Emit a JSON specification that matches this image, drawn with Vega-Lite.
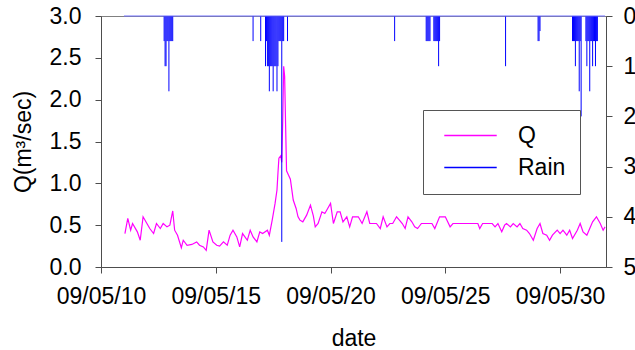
{
  "$schema": "https://vega.github.io/schema/vega-lite/v6.json",
  "width": 505,
  "height": 251,
  "autosize": {"type": "none"},
  "padding": {"left": 101, "top": 16, "right": 29, "bottom": 83},
  "config": {
    "font": "Liberation Sans",
    "view": {"stroke": "#808080", "strokeWidth": 1},
    "axis": {
      "labelFontSize": 23,
      "titleFontSize": 23,
      "labelColor": "#000",
      "titleColor": "#000",
      "titleFontWeight": "normal",
      "domainColor": "#4d4d4d",
      "tickColor": "#4d4d4d",
      "tickSize": 6,
      "grid": false
    }
  },
  "datasets": {
    "q": [
      {"t": "2009-05-11T01:00", "q": 0.40},
      {"t": "2009-05-11T04:00", "q": 0.58},
      {"t": "2009-05-11T07:00", "q": 0.44},
      {"t": "2009-05-11T09:00", "q": 0.52},
      {"t": "2009-05-11T14:00", "q": 0.42},
      {"t": "2009-05-11T17:00", "q": 0.32},
      {"t": "2009-05-11T20:00", "q": 0.60},
      {"t": "2009-05-12T00:00", "q": 0.52},
      {"t": "2009-05-12T03:00", "q": 0.46},
      {"t": "2009-05-12T07:00", "q": 0.40},
      {"t": "2009-05-12T10:00", "q": 0.52},
      {"t": "2009-05-12T14:00", "q": 0.46},
      {"t": "2009-05-12T17:00", "q": 0.52},
      {"t": "2009-05-12T21:00", "q": 0.48},
      {"t": "2009-05-13T00:00", "q": 0.50},
      {"t": "2009-05-13T03:00", "q": 0.67},
      {"t": "2009-05-13T05:00", "q": 0.44},
      {"t": "2009-05-13T08:00", "q": 0.38},
      {"t": "2009-05-13T12:00", "q": 0.23},
      {"t": "2009-05-13T14:00", "q": 0.32},
      {"t": "2009-05-13T18:00", "q": 0.26},
      {"t": "2009-05-13T23:00", "q": 0.27},
      {"t": "2009-05-14T04:00", "q": 0.30},
      {"t": "2009-05-14T07:00", "q": 0.26},
      {"t": "2009-05-14T11:00", "q": 0.24},
      {"t": "2009-05-14T14:00", "q": 0.20},
      {"t": "2009-05-14T17:00", "q": 0.44},
      {"t": "2009-05-14T21:00", "q": 0.30},
      {"t": "2009-05-15T01:00", "q": 0.26},
      {"t": "2009-05-15T04:00", "q": 0.25},
      {"t": "2009-05-15T08:00", "q": 0.30},
      {"t": "2009-05-15T12:00", "q": 0.26},
      {"t": "2009-05-15T15:00", "q": 0.38},
      {"t": "2009-05-15T18:00", "q": 0.44},
      {"t": "2009-05-15T22:00", "q": 0.36},
      {"t": "2009-05-16T01:00", "q": 0.24},
      {"t": "2009-05-16T04:00", "q": 0.40},
      {"t": "2009-05-16T09:00", "q": 0.32},
      {"t": "2009-05-16T12:00", "q": 0.44},
      {"t": "2009-05-16T15:00", "q": 0.36},
      {"t": "2009-05-16T19:00", "q": 0.30},
      {"t": "2009-05-16T22:00", "q": 0.42},
      {"t": "2009-05-17T01:00", "q": 0.40},
      {"t": "2009-05-17T06:00", "q": 0.44},
      {"t": "2009-05-17T08:00", "q": 0.38},
      {"t": "2009-05-17T11:00", "q": 0.56},
      {"t": "2009-05-17T14:00", "q": 0.76},
      {"t": "2009-05-17T16:00", "q": 0.92},
      {"t": "2009-05-17T17:00", "q": 1.12},
      {"t": "2009-05-17T18:00", "q": 1.30},
      {"t": "2009-05-17T20:00", "q": 1.33},
      {"t": "2009-05-17T21:00", "q": 1.25},
      {"t": "2009-05-17T22:00", "q": 1.75},
      {"t": "2009-05-17T23:00", "q": 2.40},
      {"t": "2009-05-18T00:00", "q": 2.28},
      {"t": "2009-05-18T01:00", "q": 1.70},
      {"t": "2009-05-18T02:00", "q": 1.15},
      {"t": "2009-05-18T04:00", "q": 1.10},
      {"t": "2009-05-18T06:00", "q": 1.05},
      {"t": "2009-05-18T09:00", "q": 0.80},
      {"t": "2009-05-18T12:00", "q": 0.70},
      {"t": "2009-05-18T14:00", "q": 0.60},
      {"t": "2009-05-18T16:00", "q": 0.56},
      {"t": "2009-05-18T19:00", "q": 0.54},
      {"t": "2009-05-18T23:00", "q": 0.62},
      {"t": "2009-05-19T03:00", "q": 0.74},
      {"t": "2009-05-19T06:00", "q": 0.61},
      {"t": "2009-05-19T08:00", "q": 0.48},
      {"t": "2009-05-19T11:00", "q": 0.52},
      {"t": "2009-05-19T15:00", "q": 0.66},
      {"t": "2009-05-19T18:00", "q": 0.64},
      {"t": "2009-05-19T21:00", "q": 0.70},
      {"t": "2009-05-20T00:00", "q": 0.76},
      {"t": "2009-05-20T03:00", "q": 0.52},
      {"t": "2009-05-20T07:00", "q": 0.66},
      {"t": "2009-05-20T10:00", "q": 0.66},
      {"t": "2009-05-20T13:00", "q": 0.54},
      {"t": "2009-05-20T17:00", "q": 0.60},
      {"t": "2009-05-20T20:00", "q": 0.48},
      {"t": "2009-05-20T23:00", "q": 0.60},
      {"t": "2009-05-21T05:00", "q": 0.60},
      {"t": "2009-05-21T09:00", "q": 0.52},
      {"t": "2009-05-21T14:00", "q": 0.66},
      {"t": "2009-05-21T17:00", "q": 0.52},
      {"t": "2009-05-22T00:00", "q": 0.52},
      {"t": "2009-05-22T04:00", "q": 0.46},
      {"t": "2009-05-22T07:00", "q": 0.60},
      {"t": "2009-05-22T11:00", "q": 0.48},
      {"t": "2009-05-22T14:00", "q": 0.52},
      {"t": "2009-05-22T17:00", "q": 0.52},
      {"t": "2009-05-22T21:00", "q": 0.60},
      {"t": "2009-05-23T00:00", "q": 0.56},
      {"t": "2009-05-23T03:00", "q": 0.52},
      {"t": "2009-05-23T06:00", "q": 0.46},
      {"t": "2009-05-23T09:00", "q": 0.60},
      {"t": "2009-05-23T13:00", "q": 0.54},
      {"t": "2009-05-23T16:00", "q": 0.48},
      {"t": "2009-05-23T19:00", "q": 0.46},
      {"t": "2009-05-23T23:00", "q": 0.52},
      {"t": "2009-05-24T10:00", "q": 0.52},
      {"t": "2009-05-24T13:00", "q": 0.46},
      {"t": "2009-05-24T18:00", "q": 0.60},
      {"t": "2009-05-25T00:00", "q": 0.60},
      {"t": "2009-05-25T05:00", "q": 0.48},
      {"t": "2009-05-25T08:00", "q": 0.52},
      {"t": "2009-05-26T10:00", "q": 0.52},
      {"t": "2009-05-26T12:00", "q": 0.46},
      {"t": "2009-05-26T15:00", "q": 0.52},
      {"t": "2009-05-27T01:00", "q": 0.52},
      {"t": "2009-05-27T04:00", "q": 0.48},
      {"t": "2009-05-27T07:00", "q": 0.52},
      {"t": "2009-05-27T11:00", "q": 0.42},
      {"t": "2009-05-27T14:00", "q": 0.50},
      {"t": "2009-05-27T16:00", "q": 0.52},
      {"t": "2009-05-27T20:00", "q": 0.48},
      {"t": "2009-05-27T23:00", "q": 0.52},
      {"t": "2009-05-28T03:00", "q": 0.48},
      {"t": "2009-05-28T06:00", "q": 0.52},
      {"t": "2009-05-28T09:00", "q": 0.46},
      {"t": "2009-05-28T13:00", "q": 0.44},
      {"t": "2009-05-28T16:00", "q": 0.40},
      {"t": "2009-05-28T20:00", "q": 0.32},
      {"t": "2009-05-29T00:00", "q": 0.46},
      {"t": "2009-05-29T03:00", "q": 0.52},
      {"t": "2009-05-29T06:00", "q": 0.40},
      {"t": "2009-05-29T10:00", "q": 0.38},
      {"t": "2009-05-29T13:00", "q": 0.32},
      {"t": "2009-05-29T16:00", "q": 0.38},
      {"t": "2009-05-29T21:00", "q": 0.44},
      {"t": "2009-05-30T00:00", "q": 0.40},
      {"t": "2009-05-30T03:00", "q": 0.44},
      {"t": "2009-05-30T07:00", "q": 0.38},
      {"t": "2009-05-30T10:00", "q": 0.44},
      {"t": "2009-05-30T13:00", "q": 0.34},
      {"t": "2009-05-30T18:00", "q": 0.44},
      {"t": "2009-05-30T21:00", "q": 0.52},
      {"t": "2009-05-31T00:00", "q": 0.42},
      {"t": "2009-05-31T04:00", "q": 0.38},
      {"t": "2009-05-31T07:00", "q": 0.46},
      {"t": "2009-05-31T10:00", "q": 0.54},
      {"t": "2009-05-31T14:00", "q": 0.60},
      {"t": "2009-05-31T18:00", "q": 0.52},
      {"t": "2009-05-31T21:00", "q": 0.44},
      {"t": "2009-05-31T23:00", "q": 0.48}
    ],
    "rain": [
      {"t": "2009-05-11T00:00", "rain": 0},
      {"t": "2009-05-12T18:00", "rain": 0.5},
      {"t": "2009-05-12T19:00", "rain": 1.0},
      {"t": "2009-05-12T20:00", "rain": 1.0},
      {"t": "2009-05-12T21:00", "rain": 0.5},
      {"t": "2009-05-12T22:00", "rain": 0.5},
      {"t": "2009-05-12T23:00", "rain": 1.5},
      {"t": "2009-05-13T00:00", "rain": 0.5},
      {"t": "2009-05-13T01:00", "rain": 0.5},
      {"t": "2009-05-13T02:00", "rain": 0.5},
      {"t": "2009-05-13T03:00", "rain": 0.5},
      {"t": "2009-05-16T15:00", "rain": 0.5},
      {"t": "2009-05-16T23:00", "rain": 0.5},
      {"t": "2009-05-17T04:00", "rain": 1.0},
      {"t": "2009-05-17T05:00", "rain": 0.5},
      {"t": "2009-05-17T06:00", "rain": 1.0},
      {"t": "2009-05-17T07:00", "rain": 1.0},
      {"t": "2009-05-17T08:00", "rain": 1.5},
      {"t": "2009-05-17T09:00", "rain": 1.0},
      {"t": "2009-05-17T10:00", "rain": 1.0},
      {"t": "2009-05-17T11:00", "rain": 1.0},
      {"t": "2009-05-17T12:00", "rain": 1.5},
      {"t": "2009-05-17T13:00", "rain": 1.0},
      {"t": "2009-05-17T14:00", "rain": 1.0},
      {"t": "2009-05-17T15:00", "rain": 1.0},
      {"t": "2009-05-17T16:00", "rain": 1.5},
      {"t": "2009-05-17T17:00", "rain": 1.0},
      {"t": "2009-05-17T18:00", "rain": 0.5},
      {"t": "2009-05-17T19:00", "rain": 0.5},
      {"t": "2009-05-17T20:00", "rain": 0.5},
      {"t": "2009-05-17T21:00", "rain": 4.5},
      {"t": "2009-05-17T22:00", "rain": 0.5},
      {"t": "2009-05-17T23:00", "rain": 0.5},
      {"t": "2009-05-18T03:00", "rain": 0.5},
      {"t": "2009-05-22T19:00", "rain": 0.5},
      {"t": "2009-05-24T04:00", "rain": 0.5},
      {"t": "2009-05-24T05:00", "rain": 0.5},
      {"t": "2009-05-24T06:00", "rain": 0.5},
      {"t": "2009-05-24T07:00", "rain": 0.5},
      {"t": "2009-05-24T08:00", "rain": 0.5},
      {"t": "2009-05-24T12:00", "rain": 0.5},
      {"t": "2009-05-24T13:00", "rain": 0.5},
      {"t": "2009-05-24T14:00", "rain": 0.5},
      {"t": "2009-05-24T15:00", "rain": 0.5},
      {"t": "2009-05-24T16:00", "rain": 0.5},
      {"t": "2009-05-24T17:00", "rain": 1.0},
      {"t": "2009-05-24T18:00", "rain": 0.5},
      {"t": "2009-05-27T15:00", "rain": 1.0},
      {"t": "2009-05-29T01:00", "rain": 0.5},
      {"t": "2009-05-29T02:00", "rain": 0.5},
      {"t": "2009-05-29T03:00", "rain": 0.3},
      {"t": "2009-05-30T13:00", "rain": 0.5},
      {"t": "2009-05-30T14:00", "rain": 0.5},
      {"t": "2009-05-30T15:00", "rain": 0.5},
      {"t": "2009-05-30T16:00", "rain": 1.0},
      {"t": "2009-05-30T17:00", "rain": 0.5},
      {"t": "2009-05-30T18:00", "rain": 0.5},
      {"t": "2009-05-30T19:00", "rain": 0.5},
      {"t": "2009-05-30T20:00", "rain": 1.5},
      {"t": "2009-05-30T21:00", "rain": 0.5},
      {"t": "2009-05-30T22:00", "rain": 2.0},
      {"t": "2009-05-31T03:00", "rain": 0.5},
      {"t": "2009-05-31T04:00", "rain": 1.0},
      {"t": "2009-05-31T05:00", "rain": 0.5},
      {"t": "2009-05-31T06:00", "rain": 0.5},
      {"t": "2009-05-31T07:00", "rain": 1.5},
      {"t": "2009-05-31T08:00", "rain": 0.5},
      {"t": "2009-05-31T09:00", "rain": 0.5},
      {"t": "2009-05-31T10:00", "rain": 1.0},
      {"t": "2009-05-31T11:00", "rain": 0.5},
      {"t": "2009-05-31T12:00", "rain": 0.5},
      {"t": "2009-05-31T13:00", "rain": 1.0},
      {"t": "2009-05-31T14:00", "rain": 0.5},
      {"t": "2009-05-31T15:00", "rain": 0.5},
      {"t": "2009-05-31T23:00", "rain": 0}
    ]
  },
  "layer": [
    {
      "data": {"name": "q"},
      "mark": {"type": "line", "strokeWidth": 1.2, "interpolate": "linear"},
      "encoding": {
        "x": {
          "field": "t",
          "type": "temporal",
          "scale": {"domain": [{"year": 2009, "month": 5, "date": 10}, {"year": 2009, "month": 6, "date": 1}]},
          "axis": {
            "values": [
              {"year": 2009, "month": 5, "date": 10},
              {"year": 2009, "month": 5, "date": 15},
              {"year": 2009, "month": 5, "date": 20},
              {"year": 2009, "month": 5, "date": 25},
              {"year": 2009, "month": 5, "date": 30}
            ],
            "format": "%y/%m/%d",
            "title": "date",
            "labelPadding": 12,
            "titlePadding": 19,
            "labelOverlap": false,
            "labelFlush": false
          }
        },
        "y": {
          "field": "q",
          "type": "quantitative",
          "scale": {"domain": [0, 3], "nice": false, "zero": true},
          "axis": {
            "orient": "left",
            "values": [0, 0.5, 1, 1.5, 2, 2.5, 3],
            "format": ".1f",
            "title": "Q(m³/sec)",
            "labelPadding": 14,
            "titlePadding": 14
          }
        },
        "color": {
          "datum": "Q",
          "type": "nominal",
          "scale": {"domain": ["Q", "Rain"], "range": ["#ff00ff", "#0000ff"]},
          "legend": {
            "orient": "none",
            "legendX": 322,
            "legendY": 94,
            "title": null,
            "symbolType": "M-5,0H5",
            "symbolSize": 110,
            "symbolOffset": 22,
            "symbolStrokeWidth": 1.5,
            "labelFontSize": 23,
            "labelColor": "#000",
            "labelOffset": 36,
            "padding": 14,
            "rowPadding": 8,
            "strokeColor": "#555555",
            "fillColor": "#ffffff"
          }
        }
      }
    },
    {
      "data": {"name": "rain"},
      "layer": [
        {
          "mark": {"type": "rule", "strokeWidth": 1},
          "encoding": {
            "x": {"field": "t", "type": "temporal"},
            "y": {
              "field": "rain",
              "type": "quantitative",
              "scale": {"domain": [0, 5], "reverse": true, "nice": false},
              "axis": {
                "orient": "right",
                "values": [0, 1, 2, 3, 4, 5],
                "format": "d",
                "title": null,
                "labelPadding": 11
              }
            },
            "y2": {"datum": 0},
            "color": {"datum": "Rain", "type": "nominal"}
          }
        },
        {
          "mark": {"type": "rule", "strokeWidth": 1, "color": "#7070ff"},
          "encoding": {
            "x": {"aggregate": "min", "field": "t", "type": "temporal"},
            "x2": {"aggregate": "max", "field": "t"},
            "y": {"datum": 0}
          }
        }
      ]
    }
  ],
  "resolve": {"scale": {"y": "independent"}}
}
